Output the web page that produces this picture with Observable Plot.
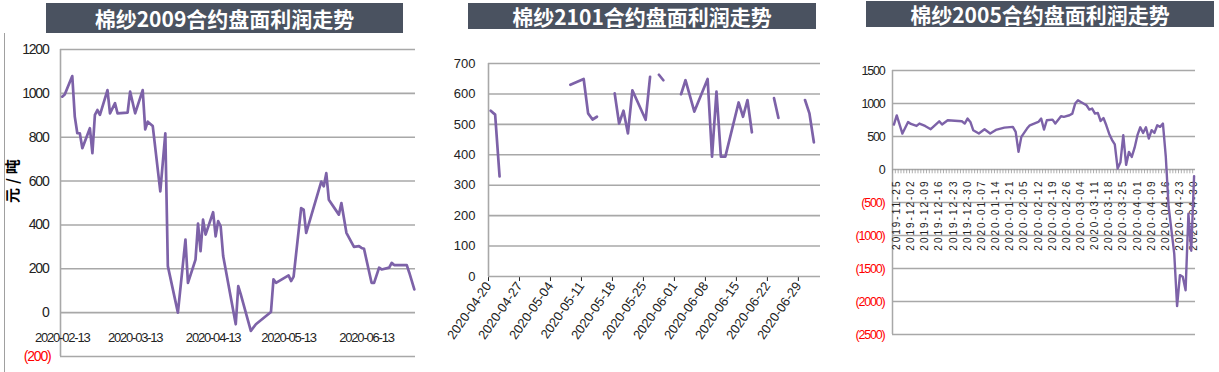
<!DOCTYPE html>
<html>
<head>
<meta charset="utf-8">
<script src="https://cdn.jsdelivr.net/npm/d3@7"></script>
<script src="https://cdn.jsdelivr.net/npm/@observablehq/plot@0.6"></script>
<style>
  html, body { margin: 0; padding: 0; background: #fff; }
  body { width: 1219px; height: 372px; position: relative; overflow: hidden; }
  .panel { position: absolute; top: 0; }
  .panel svg { display: block; }
  .title { position: absolute; background: #4a5260; color: #fff; text-align: center;
           font-family: "Noto Sans CJK SC", sans-serif; font-weight: bold; font-size: 21px; white-space: nowrap; }
  .border { position: absolute; left: 4px; top: 33px; width: 0; height: 339px; border-left: 1.5px solid #a0a0a0; }
</style>
</head>
<body>
<div class="border"></div>
<div id="p1" class="panel" style="left:0;width:420px"></div>
<div id="p2" class="panel" style="left:420px;width:420px"></div>
<div id="p3" class="panel" style="left:840px;width:379px"></div>
<div id="t1" class="title" style="left:46px;top:3px;width:357px;height:30px;line-height:30px"></div>
<div id="t2" class="title" style="left:468px;top:3px;width:348px;height:26px;line-height:26px"></div>
<div id="t3" class="title" style="left:866px;top:1px;width:348px;height:26px;line-height:26px"></div>
<script>
// ---------------- Panel 1: 棉纱2009 ----------------
const p1Title = "棉纱2009合约盘面利润走势";
const p1YLabel = "元/吨";
const p1Dates = ["2020-02-13","2020-02-14","2020-02-17","2020-02-18","2020-02-19","2020-02-20","2020-02-21","2020-02-24","2020-02-25","2020-02-26","2020-02-27","2020-02-28","2020-03-02","2020-03-03","2020-03-05","2020-03-06","2020-03-10","2020-03-11","2020-03-13","2020-03-16","2020-03-17","2020-03-18","2020-03-20","2020-03-23","2020-03-25","2020-03-26","2020-03-30","2020-04-02","2020-04-03","2020-04-06","2020-04-07","2020-04-08","2020-04-09","2020-04-10","2020-04-13","2020-04-14","2020-04-15","2020-04-16","2020-04-17","2020-04-22","2020-04-23","2020-04-24","2020-04-28","2020-04-30","2020-05-06","2020-05-07","2020-05-08","2020-05-13","2020-05-14","2020-05-15","2020-05-18","2020-05-19","2020-05-20","2020-05-26","2020-05-27","2020-05-28","2020-05-29","2020-06-02","2020-06-03","2020-06-05","2020-06-08","2020-06-10","2020-06-11","2020-06-12","2020-06-15","2020-06-16","2020-06-18","2020-06-19","2020-06-22","2020-06-23","2020-06-24","2020-06-29","2020-06-30","2020-07-02"];
const p1Values = [985,995,1079,894,818,818,750,841,727,902,924,902,1015,909,955,909,912,1008,909,1015,836,871,851,553,818,212,0,333,136,242,406,280,424,356,458,348,417,394,258,-53,121,83,-83,-53,3,152,136,170,144,164,477,470,364,598,576,636,515,447,500,364,300,303,295,291,136,136,205,197,205,227,217,217,182,106];
const p1YTicks = [1200,1000,800,600,400,200,0,-200];
const p1XTicks = ["2020-02-13","2020-03-13","2020-04-13","2020-05-13","2020-06-13"];

// ---------------- Panel 2: 棉纱2101 ----------------
const p2Title = "棉纱2101合约盘面利润走势";
const p2Dates = ["2020-04-20","2020-04-21","2020-04-22","2020-04-23","2020-05-08","2020-05-11","2020-05-12","2020-05-13","2020-05-14","2020-05-15","2020-05-18","2020-05-19","2020-05-20","2020-05-21","2020-05-22","2020-05-25","2020-05-26","2020-05-27","2020-05-28","2020-05-29","2020-06-01","2020-06-02","2020-06-03","2020-06-05","2020-06-08","2020-06-09","2020-06-10","2020-06-11","2020-06-12","2020-06-15","2020-06-16","2020-06-17","2020-06-18","2020-06-19","2020-06-23","2020-06-24","2020-06-25","2020-06-30","2020-07-01","2020-07-02"];
const p2Values = [545,532,329,null,630,649,536,516,525,null,602,503,545,470,612,515,656,null,663,645,null,599,645,542,649,394,608,394,394,572,525,580,474,null,586,521,null,580,536,441];
const p2YTicks = [0,100,200,300,400,500,600,700];
const p2XTicks = ["2020-04-20","2020-04-27","2020-05-04","2020-05-11","2020-05-18","2020-05-25","2020-06-01","2020-06-08","2020-06-15","2020-06-22","2020-06-29"];

// ---------------- Panel 3: 棉纱2005 ----------------
const p3Title = "棉纱2005合约盘面利润走势";
const p3Dates = ["2019-11-22","2019-11-25","2019-11-27","2019-11-29","2019-12-02","2019-12-04","2019-12-05","2019-12-09","2019-12-11","2019-12-16","2019-12-17","2019-12-19","2019-12-26","2019-12-27","2019-12-30","2019-12-31","2020-01-02","2020-01-06","2020-01-08","2020-01-10","2020-01-14","2020-01-17","2020-01-22","2020-01-23","2020-02-03","2020-02-04","2020-02-06","2020-02-07","2020-02-12","2020-02-13","2020-02-14","2020-02-17","2020-02-19","2020-02-20","2020-02-24","2020-02-25","2020-02-27","2020-02-28","2020-03-02","2020-03-03","2020-03-04","2020-03-06","2020-03-09","2020-03-10","2020-03-11","2020-03-12","2020-03-13","2020-03-16","2020-03-17","2020-03-18","2020-03-19","2020-03-20","2020-03-23","2020-03-24","2020-03-25","2020-03-26","2020-03-27","2020-03-30","2020-03-31","2020-04-01","2020-04-02","2020-04-03","2020-04-07","2020-04-08","2020-04-09","2020-04-10","2020-04-13","2020-04-14","2020-04-15","2020-04-16","2020-04-17","2020-04-20","2020-04-21","2020-04-22","2020-04-23","2020-04-24","2020-04-27","2020-04-28","2020-04-29","2020-04-30"];
const p3Values = [680,820,545,720,690,660,696,660,610,731,681,746,731,696,771,721,595,545,610,545,600,635,646,570,267,494,620,670,721,771,605,746,756,696,807,797,822,847,999,1049,1024,973,908,923,847,857,735,780,670,543,450,380,15,110,519,70,267,191,330,520,640,554,640,469,595,554,670,646,696,200,-560,-920,-1280,-2070,-1600,-1625,-1830,-670,-1230,-100];
const p3YTicks = [1500,1000,500,0,-500,-1000,-1500,-2000,-2500];
const p3XTicks = ["2019-11-25","2019-12-02","2019-12-09","2019-12-16","2019-12-23","2019-12-30","2020-01-07","2020-01-14","2020-01-21","2020-02-05","2020-02-12","2020-02-19","2020-02-26","2020-03-04","2020-03-11","2020-03-18","2020-03-25","2020-04-01","2020-04-09","2020-04-16","2020-04-23","2020-04-30"];
const p3FirstDay = "2019-11-22";
const p3LastDay = "2020-04-30";
const p3Holidays = ["2020-01-01","2020-01-24","2020-01-27","2020-01-28","2020-01-29","2020-01-30","2020-01-31","2020-04-06"];

// ---------------- Shared ----------------
const parse = d3.utcParse("%Y-%m-%d");
const fmtDate = d3.utcFormat("%Y-%m-%d");
const DAY = 864e5;
const fmt = d => d < 0 ? `(${-d})` : `${d}`;
const lineColor = "#7d62a8";
const gridColor = "#a8a8a8";
const textColor = "#222";
const negColor = "#ff0000";
const baseFont = '"Liberation Sans", Arial, sans-serif';
const isDate = s => /^\d{4}-\d{2}-\d{2}$/.test(s);

document.getElementById("t1").textContent = p1Title;
document.getElementById("t2").textContent = p2Title;
document.getElementById("t3").textContent = p3Title;

// Panel 1
const p1Data = p1Dates.map((d, i) => ({date: parse(d), value: p1Values[i]}));
const p1Domain = [new Date("2020-02-12T07:40:00Z"), new Date("2020-07-02T11:15:00Z")];
const chart1 = Plot.plot({
  width: 420, height: 372,
  marginLeft: 60, marginRight: 5, marginTop: 49, marginBottom: 16,
  style: {fontFamily: baseFont, fontSize: "14px", color: textColor, background: "transparent", overflow: "visible"},
  x: {type: "utc", domain: p1Domain, axis: null},
  y: {domain: [-200, 1200], axis: null},
  marks: [
    Plot.ruleY(p1YTicks, {stroke: gridColor, strokeWidth: 1.6}),
    Plot.ruleX([p1Domain[0]], {stroke: gridColor, strokeWidth: 1.6}),
    Plot.text(p1YTicks.filter(d => d >= 0), {y: d => d, text: fmt, frameAnchor: "left", textAnchor: "end", dx: -12, fill: textColor, fontSize: 14}),
    Plot.text(p1YTicks.filter(d => d < 0), {y: d => d, text: fmt, frameAnchor: "left", textAnchor: "end", dx: -10, fill: negColor, fontSize: 14}),
    Plot.text(p1XTicks, {x: d => parse(d), y: () => 0, dy: 25, text: d => d, fill: textColor, fontSize: 13}),
    Plot.text([p1YLabel], {frameAnchor: "left", rotate: -90, dx: -47, text: d => d, fill: "#000", fontWeight: "bold", fontSize: 15, fontFamily: "Noto Sans CJK SC"}),
    Plot.line(p1Data, {x: "date", y: "value", stroke: lineColor, strokeWidth: 2.7, strokeLinejoin: "round"})
  ]
});
d3.select(chart1).selectAll("text").each(function () {
  const t = this.textContent;
  if (t === p1YLabel) this.setAttribute("letter-spacing", "4");
  else this.setAttribute("letter-spacing", "-1.2");
});
document.getElementById("p1").append(chart1);

// Panel 2
const p2Data = p2Dates.map((d, i) => ({date: parse(d), value: p2Values[i]}));
const p2Domain = [parse("2020-04-20"), parse("2020-07-04")];
const chart2 = Plot.plot({
  width: 420, height: 372,
  marginLeft: 68, marginRight: 20, marginTop: 63, marginBottom: 96,
  style: {fontFamily: baseFont, fontSize: "13px", color: textColor, background: "transparent", overflow: "visible"},
  x: {type: "utc", domain: p2Domain, ticks: p2XTicks.map(parse), tickFormat: fmtDate, tickSize: 5, tickPadding: 2, tickRotate: -55, label: null},
  y: {domain: [0, 700], ticks: p2YTicks, tickSize: 0, tickPadding: 13, label: null},
  marks: [
    Plot.ruleY(p2YTicks, {stroke: gridColor, strokeWidth: 1.6}),
    Plot.ruleX([p2Domain[0]], {stroke: gridColor, strokeWidth: 1.6}),
    Plot.line(p2Data, {x: d => new Date(+d.date + DAY / 2), y: "value", stroke: lineColor, strokeWidth: 2.7, strokeLinejoin: "round"})
  ]
});
document.getElementById("p2").append(chart2);

// Panel 3
const holidaySet = new Set(p3Holidays);
const tradingDays = d3.utcDays(parse(p3FirstDay), new Date(+parse(p3LastDay) + DAY))
  .filter(d => d.getUTCDay() > 0 && d.getUTCDay() < 6 && !holidaySet.has(fmtDate(d)))
  .map(fmtDate);
const p3Data = p3Dates.map((d, i) => ({date: d, value: p3Values[i]}));
const p3Width = 379, p3Left = 52, p3Right = 24;
const halfStep = (p3Width - p3Left - p3Right) / tradingDays.length / 2;
const chart3 = Plot.plot({
  width: p3Width, height: 372,
  marginLeft: p3Left, marginRight: p3Right, marginTop: 70, marginBottom: 38,
  style: {fontFamily: baseFont, fontSize: "12px", color: textColor, background: "transparent", overflow: "visible"},
  x: {type: "point", domain: tradingDays, axis: null},
  y: {domain: [-2500, 1500], axis: null},
  marks: [
    Plot.ruleY(p3YTicks, {stroke: gridColor, strokeWidth: 1.5}),
    Plot.ruleX([tradingDays[0]], {dx: -halfStep, stroke: gridColor, strokeWidth: 1.5}),
    Plot.ruleX(tradingDays, {x: d => d, y1: () => 0, y2: () => -65, dx: -halfStep, stroke: "#9a9a9a", strokeWidth: 0.8}),
    Plot.text(p3YTicks.filter(d => d >= 0), {y: d => d, text: fmt, frameAnchor: "left", textAnchor: "end", dx: -8, fill: textColor, fontSize: 12.5}),
    Plot.text(p3YTicks.filter(d => d < 0), {y: d => d, text: fmt, frameAnchor: "left", textAnchor: "end", dx: -8, fill: negColor, fontSize: 12.5}),
    Plot.text(p3XTicks, {x: d => d, y: () => 0, rotate: -90, textAnchor: "end", dy: 10, text: d => d, fill: textColor, fontSize: 10}),
    Plot.line(p3Data, {x: "date", y: "value", stroke: lineColor, strokeWidth: 2.4, strokeLinejoin: "round"})
  ]
});
d3.select(chart3).selectAll("text").each(function () {
  this.setAttribute("letter-spacing", isDate(this.textContent) ? "2" : "-1.2");
});
document.getElementById("p3").append(chart3);
</script>
</body>
</html>
